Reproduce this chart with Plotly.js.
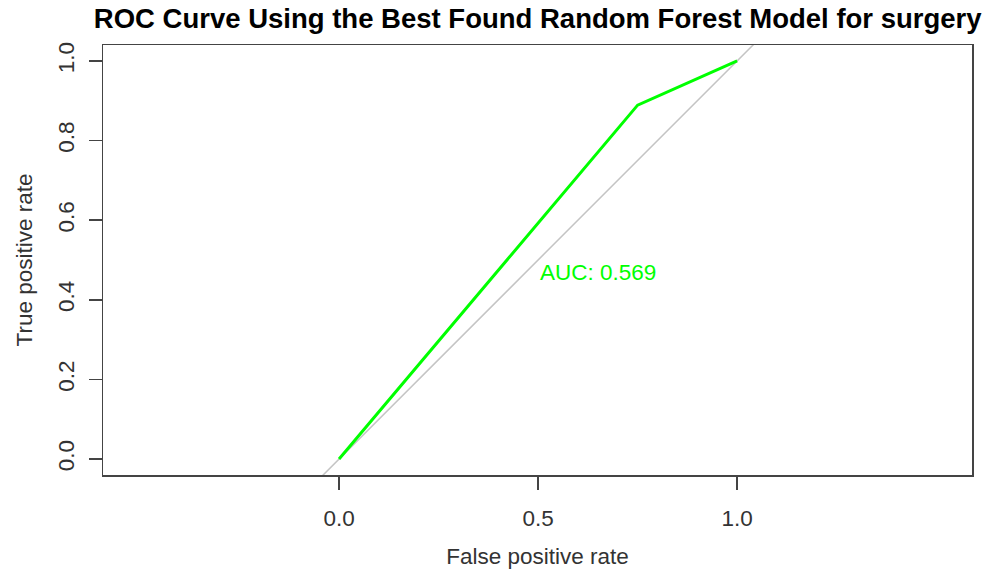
<!DOCTYPE html>
<html>
<head>
<meta charset="utf-8">
<script src="https://cdn.plot.ly/plotly-3.0.1.min.js"></script>
<style>
  html, body { margin: 0; padding: 0; background: #fff; }
  #chart { width: 989px; height: 576px; }
</style>
</head>
<body>
<div id="chart"></div>
<script>
// ROC curve points (false positive rate, true positive rate)
const fpr = [0, 0.75, 1];
const tpr = [0, 0.889, 1];
const aucValue = 0.569;
const aucLabelPos = [0.5, 0.468];

// Reference diagonal (chance line), clipped to the plotting area
const diagX = [-1, 2];
const diagY = [-1, 2];

const xTicks = [0, 0.5, 1];
const xTickText = ["0.0", "0.5", "1.0"];
const yTicks = [0, 0.2, 0.4, 0.6, 0.8, 1];
const yTickText = ["0.0", "0.2", "0.4", "0.6", "0.8", "1.0"];

const font = "Liberation Sans, Arial, sans-serif";
const axisColor = "#444";

const traces = [
  {
    x: diagX, y: diagY, mode: "lines", type: "scatter",
    line: { color: "#c4c4c4", width: 1.5 },
    hoverinfo: "skip", showlegend: false
  },
  {
    x: fpr, y: tpr, mode: "lines", type: "scatter",
    line: { color: "#00ff00", width: 3 },
    showlegend: false
  }
];

const layout = {
  width: 989, height: 576,
  margin: { l: 103, r: 17, t: 45, b: 101, pad: 0 },
  paper_bgcolor: "#fff", plot_bgcolor: "#fff",
  title: {
    text: "<b>ROC Curve Using the Best Found Random Forest Model for surgery</b>",
    font: { family: font, size: 27.5, color: "#000" },
    x: 0.5437, xanchor: "center", y: 0.968, yanchor: "middle"
  },
  xaxis: {
    range: [-0.593, 1.590],
    tickvals: xTicks, ticktext: xTickText,
    ticks: "outside", ticklen: 13, tickwidth: 1.5, tickcolor: axisColor,
    showline: true, mirror: true, linecolor: axisColor, linewidth: 1.5,
    showgrid: false, zeroline: false,
    tickfont: { family: font, size: 22.5, color: "#333" },
    ticklabelstandoff: 9,
    title: { text: "False positive rate", font: { family: font, size: 22.5, color: "#333" }, standoff: 18 }
  },
  yaxis: {
    range: [-0.04, 1.04],
    tickvals: yTicks, ticktext: yTickText, tickangle: -90,
    ticks: "outside", ticklen: 13, tickwidth: 1.5, tickcolor: axisColor,
    showline: true, mirror: true, linecolor: axisColor, linewidth: 1.5,
    showgrid: false, zeroline: false,
    tickfont: { family: font, size: 22.5, color: "#333" },
    ticklabelstandoff: 6,
    title: { text: "True positive rate", font: { family: font, size: 22.5, color: "#333" }, standoff: 14 }
  },
  annotations: [
    {
      x: aucLabelPos[0], y: aucLabelPos[1], xref: "x", yref: "y",
      text: "AUC: " + aucValue.toFixed(3),
      showarrow: false, xanchor: "left", yanchor: "middle",
      font: { family: font, size: 22.5, color: "#00ff00" }
    }
  ]
};

Plotly.newPlot("chart", traces, layout, { staticPlot: true, displayModeBar: false });
</script>
</body>
</html>
